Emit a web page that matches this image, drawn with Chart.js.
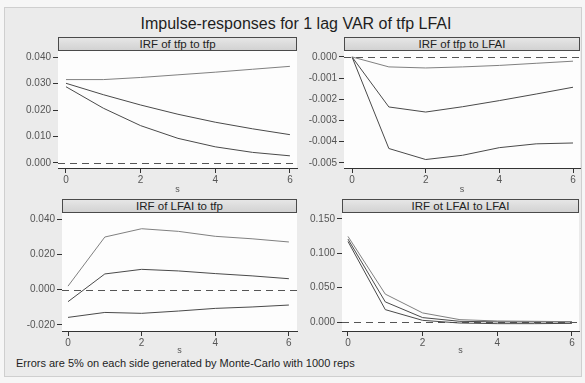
<!DOCTYPE html>
<html>
<head>
<meta charset="utf-8">
<script src="https://cdn.jsdelivr.net/npm/chart.js@4"></script>
<style>
  html, body { margin: 0; padding: 0; }
  body { width: 585px; height: 383px; background: #f6f6f6; position: relative; overflow: hidden;
         font-family: "Liberation Sans", Arial, sans-serif; }
  #frame { position: absolute; left: 4px; top: 7px; width: 576px; height: 368px;
           background: #ebebeb; border: 1px solid #cfcfcf; }
  .txt { position: absolute; color: #1e1e1e; white-space: nowrap; }
  .head { position: absolute; box-sizing: border-box; height: 14px; border: 1px solid #4a4a4a;
          background: linear-gradient(#e6e6e6, #d2d2d2); font-size: 11.5px; line-height: 12px;
          text-align: center; color: #222; }
  .slab { position: absolute; font-size: 9px; color: #555; transform: translateX(-50%); }
  canvas { position: absolute; }
</style>
</head>
<body>
<div id="frame"></div>
<div class="txt" style="left:0;width:592px;top:15px;font-size:16px;text-align:center;">Impulse-responses for 1 lag VAR of tfp LFAI</div>
<div class="txt" style="left:16px;top:357px;font-size:11px;">Errors are 5% on each side generated by Monte-Carlo with 1000 reps</div>
<script>
// steps (x) and tick labels
const steps = [0, 1, 2, 3, 4, 5, 6];
const xTicks = [0, 2, 4, 6];

// IRF of tfp to tfp
const tfpTfpUpper = [0.0315, 0.0315, 0.0323, 0.0333, 0.0343, 0.0354, 0.0365];
const tfpTfpIrf   = [0.0301, 0.0258, 0.0219, 0.0184, 0.0154, 0.0129, 0.0107];
const tfpTfpLower = [0.0288, 0.0207, 0.0141, 0.0093, 0.0061, 0.0040, 0.0027];
const tfpTfpTicks = [0, 0.01, 0.02, 0.03, 0.04];

// IRF of tfp to LFAI
const tfpLfaiUpper = [0, -0.00047, -0.00052, -0.00047, -0.00040, -0.00030, -0.00020];
const tfpLfaiIrf   = [0, -0.00236, -0.00260, -0.00235, -0.00206, -0.00175, -0.00143];
const tfpLfaiLower = [0, -0.00432, -0.00484, -0.00464, -0.00428, -0.00410, -0.00406];
const tfpLfaiTicks = [-0.005, -0.004, -0.003, -0.002, -0.001, 0];

// IRF of LFAI to tfp
const lfaiTfpUpper = [0.0020, 0.0298, 0.0345, 0.0330, 0.0302, 0.0288, 0.0270];
const lfaiTfpIrf   = [-0.0068, 0.0089, 0.0115, 0.0106, 0.0091, 0.0078, 0.0062];
const lfaiTfpLower = [-0.0157, -0.0129, -0.0134, -0.0121, -0.0106, -0.0098, -0.0087];
const lfaiTfpTicks = [-0.02, 0, 0.02, 0.04];

// IRF of LFAI to LFAI
const lfaiLfaiUpper = [0.1246, 0.0406, 0.0132, 0.0034, 0.0015, 0.0010, 0.0005];
const lfaiLfaiIrf   = [0.1207, 0.0293, 0.0064, 0.0010, 0.0002, 0.0002, 0.0002];
const lfaiLfaiLower = [0.1173, 0.0180, 0.0024, -0.0015, -0.0024, -0.0024, -0.0020];
const lfaiLfaiTicks = [0, 0.05, 0.10, 0.15];

const panelTitles = ['IRF of tfp to tfp', 'IRF of tfp to LFAI', 'IRF of LFAI to tfp', 'IRF ot LFAI to LFAI'];

// plot boxes (left, top, right, bottom) and axis ranges
const panels = [
  { box: [58, 51, 297, 168],  x: [-0.214, 6.19], y: [-0.0019, 0.0423],
    series: [tfpTfpUpper, tfpTfpIrf, tfpTfpLower], ticks: tfpTfpTicks },
  { box: [344, 51, 580, 168], x: [-0.218, 6.19], y: [-0.00524, 0.00028],
    series: [tfpLfaiUpper, tfpLfaiIrf, tfpLfaiLower], ticks: tfpLfaiTicks },
  { box: [62, 213, 297, 331], x: [-0.163, 6.22], y: [-0.0234, 0.0434],
    series: [lfaiTfpUpper, lfaiTfpIrf, lfaiTfpLower], ticks: lfaiTfpTicks },
  { box: [342, 213, 579, 331], x: [-0.16, 6.19], y: [-0.0131, 0.1587],
    series: [lfaiLfaiUpper, lfaiLfaiIrf, lfaiLfaiLower], ticks: lfaiLfaiTicks }
];

const lineColors = ['#808080', '#4a4a4a', '#4a4a4a'];
const tickFont = { family: '"Liberation Sans", Arial, sans-serif', size: 10 };

// white plot region + dashed zero line
const plotBg = {
  id: 'plotBg',
  beforeDatasetsDraw(chart) {
    const { ctx, chartArea: a, scales } = chart;
    ctx.save();
    ctx.fillStyle = '#fdfdfd';
    ctx.fillRect(a.left, a.top, a.right - a.left, a.bottom - a.top);
    const y0 = Math.round(scales.y.getPixelForValue(0)) + 0.5;
    ctx.strokeStyle = '#555';
    ctx.lineWidth = 1;
    ctx.setLineDash([7, 5]);
    ctx.beginPath();
    ctx.moveTo(a.left, y0);
    ctx.lineTo(a.right, y0);
    ctx.stroke();
    ctx.restore();
  }
};

const padTop = 8, padRight = 4, yAxisW = 50, xAxisH = 26;

panels.forEach((p, i) => {
  const [l, t, r, b] = p.box;
  const canvas = document.createElement('canvas');
  const w = yAxisW + (r - l) + padRight;
  const h = padTop + (b - t) + xAxisH;
  canvas.width = w; canvas.height = h;
  canvas.style.left = (l - yAxisW) + 'px';
  canvas.style.top = (t - padTop) + 'px';
  canvas.style.width = w + 'px'; canvas.style.height = h + 'px';
  document.body.append(canvas);

  const head = document.createElement('div');
  head.className = 'head';
  head.style.left = l + 'px';
  head.style.top = (t - 14) + 'px';
  head.style.width = (r - l) + 'px';
  head.textContent = panelTitles[i];
  document.body.append(head);

  const s = document.createElement('div');
  s.className = 'slab';
  s.style.left = ((l + r) / 2) + 'px';
  s.style.top = (b + (i < 2 ? 16 : 14)) + 'px';
  s.textContent = 's';
  document.body.append(s);

  new Chart(canvas.getContext('2d'), {
    type: 'line',
    data: {
      datasets: p.series.map((vals, k) => ({
        data: steps.map((st, j) => ({ x: st, y: vals[j] })),
        borderColor: lineColors[k],
        borderWidth: 1,
        pointRadius: 0,
        tension: 0,
        fill: false
      }))
    },
    options: {
      responsive: false,
      animation: false,
      events: [],
      layout: { padding: { top: padTop, right: padRight, left: 0, bottom: 0 } },
      plugins: { legend: { display: false }, tooltip: { enabled: false } },
      scales: {
        x: {
          type: 'linear', min: p.x[0], max: p.x[1],
          afterBuildTicks: sc => { sc.ticks = xTicks.map(v => ({ value: v })); },
          afterFit: sc => { sc.height = xAxisH; },
          ticks: { font: tickFont, color: '#555', padding: 1, maxRotation: 0, callback: v => String(v) },
          grid: { drawOnChartArea: false, tickLength: 5, color: '#333' },
          border: { color: '#333' }
        },
        y: {
          type: 'linear', min: p.y[0], max: p.y[1],
          afterBuildTicks: sc => { sc.ticks = p.ticks.map(v => ({ value: v })); },
          afterFit: sc => { sc.width = yAxisW; },
          ticks: { font: tickFont, color: '#555', padding: 2, callback: v => v.toFixed(3) },
          grid: { drawOnChartArea: false, tickLength: 5, color: '#333' },
          border: { color: '#333' }
        }
      }
    },
    plugins: [plotBg]
  });
});
</script>
</body>
</html>
